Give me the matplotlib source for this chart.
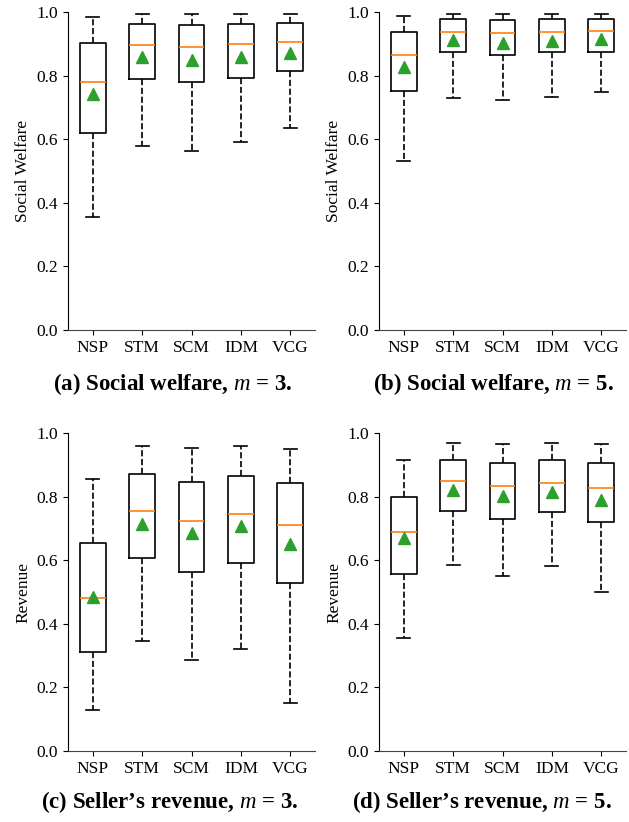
import matplotlib
matplotlib.use("Agg")
import matplotlib.pyplot as plt

plt.rcParams["font.family"] = ["Liberation Serif", "DejaVu Serif"]
plt.rcParams["mathtext.fontset"] = "custom"
plt.rcParams["mathtext.it"] = "Liberation Serif:italic"
plt.rcParams["mathtext.rm"] = "Liberation Serif"

mechanisms = ["NSP", "STM", "SCM", "IDM", "VCG"]

# (a) social welfare, m = 3
sw3_whislo = [0.354, 0.579, 0.563, 0.590, 0.635]
sw3_q1 = [0.619, 0.790, 0.781, 0.794, 0.816]
sw3_med = [0.779, 0.895, 0.890, 0.898, 0.905]
sw3_q3 = [0.901, 0.962, 0.960, 0.962, 0.964]
sw3_whishi = [0.983, 0.994, 0.993, 0.994, 0.994]
sw3_mean = [0.742, 0.857, 0.850, 0.858, 0.871]

# (b) social welfare, m = 5
sw5_whislo = [0.531, 0.731, 0.722, 0.732, 0.747]
sw5_q1 = [0.752, 0.874, 0.865, 0.874, 0.875]
sw5_med = [0.864, 0.938, 0.933, 0.938, 0.939]
sw5_q3 = [0.938, 0.977, 0.975, 0.977, 0.977]
sw5_whishi = [0.988, 0.994, 0.994, 0.994, 0.994]
sw5_mean = [0.827, 0.911, 0.903, 0.910, 0.915]

# (c) seller's revenue, m = 3
rv3_whislo = [0.130, 0.347, 0.285, 0.321, 0.152]
rv3_q1 = [0.311, 0.607, 0.564, 0.591, 0.528]
rv3_med = [0.482, 0.754, 0.722, 0.746, 0.712]
rv3_q3 = [0.654, 0.870, 0.847, 0.865, 0.843]
rv3_whishi = [0.855, 0.960, 0.953, 0.960, 0.949]
rv3_mean = [0.484, 0.713, 0.687, 0.708, 0.650]

# (d) seller's revenue, m = 5
rv5_whislo = [0.355, 0.585, 0.551, 0.582, 0.500]
rv5_q1 = [0.556, 0.755, 0.730, 0.751, 0.720]
rv5_med = [0.689, 0.848, 0.833, 0.843, 0.827]
rv5_q3 = [0.800, 0.914, 0.907, 0.914, 0.906]
rv5_whishi = [0.916, 0.969, 0.964, 0.969, 0.966]
rv5_mean = [0.669, 0.821, 0.803, 0.816, 0.789]


def make_stats(whislo, q1, med, q3, whishi, mean):
    stats = []
    for i, name in enumerate(mechanisms):
        stats.append({"label": name, "whislo": whislo[i], "q1": q1[i],
                      "med": med[i], "q3": q3[i], "whishi": whishi[i],
                      "mean": mean[i], "fliers": []})
    return stats


panels = [
    (make_stats(sw3_whislo, sw3_q1, sw3_med, sw3_q3, sw3_whishi, sw3_mean),
     "Social Welfare", "(a) Social welfare, $m$ = 3."),
    (make_stats(sw5_whislo, sw5_q1, sw5_med, sw5_q3, sw5_whishi, sw5_mean),
     "Social Welfare", "(b) Social welfare, $m$ = 5."),
    (make_stats(rv3_whislo, rv3_q1, rv3_med, rv3_q3, rv3_whishi, rv3_mean),
     "Revenue", "(c) Seller\u2019s revenue, $m$ = 3."),
    (make_stats(rv5_whislo, rv5_q1, rv5_med, rv5_q3, rv5_whishi, rv5_mean),
     "Revenue", "(d) Seller\u2019s revenue, $m$ = 5."),
]

W, H = 629, 822
fig = plt.figure(figsize=(W / 100, H / 100), dpi=100)

# axes boxes in pixels: left, top, right, bottom
boxes = [(68, 12, 315, 330), (379, 12, 626, 330),
         (68, 433, 315, 751), (379, 433, 626, 751)]
caption_pos = [(173, 384), (493, 384), (170, 802), (482, 802)]

for (stats, ylabel, caption), (l, t, r, b), (cx, cy) in zip(panels, boxes, caption_pos):
    ax = fig.add_axes([l / W, 1 - b / H, (r - l) / W, (b - t) / H])
    ax.bxp(stats, showmeans=True, showfliers=False, widths=0.52,
           boxprops=dict(color="black", linewidth=1.2),
           whiskerprops=dict(color="black", linewidth=1.2, linestyle="--"),
           capprops=dict(color="black", linewidth=1.2),
           medianprops=dict(color="#ff7f0e", linewidth=1.2),
           meanprops=dict(marker="^", markerfacecolor="#2ca02c",
                          markeredgecolor="#2ca02c", markersize=8))
    ax.set_ylim(0, 1.0)
    ax.set_xlim(0.5, 5.5)
    ax.set_yticks([0.0, 0.2, 0.4, 0.6, 0.8, 1.0])
    ax.spines["top"].set_visible(False)
    ax.spines["right"].set_visible(False)
    ax.spines["bottom"].set_color("#444444")
    ax.tick_params(labelsize=12.5)
    ax.set_ylabel(ylabel, fontsize=12.5)
    fig.text(cx / W, 1 - cy / H, caption, ha="center", va="center",
             fontsize=16.5, fontweight="bold")

fig.savefig("out.png", dpi=100)
